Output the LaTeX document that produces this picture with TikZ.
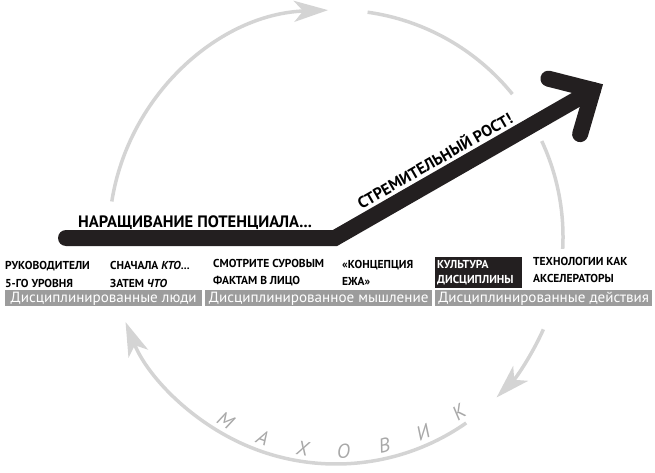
\documentclass[tikz,border=0pt]{standalone}
\usepackage{fontspec}
\setmainfont{PT Sans}
\newfontfamily\barfont[FakeStretch=1.02]{PT Sans}
\usetikzlibrary{arrows.meta,calc}

\definecolor{inkblack}{HTML}{231F20}
\definecolor{bargrey}{HTML}{9C9C9C}
\definecolor{ringgrey}{HTML}{D4D4D4}
\definecolor{lettergrey}{HTML}{A8A8A8}

\tikzset{
  ring/.style={ringgrey, line width=3.5pt},
  ringtip/.style={ring, -{Stealth[length=34pt,width=21pt,inset=9pt]}},
  shaft/.style={inkblack, line width=16pt, line cap=round, line join=miter},
  stage/.style={anchor=north west, align=left, inner sep=0pt,
    font=\fontsize{11.5}{17.5}\selectfont\bfseries},
  bar/.style={fill=bargrey, text=white, anchor=west,
    inner xsep=0pt, inner ysep=0pt, text height=12pt, text depth=4pt,
    font=\barfont\fontsize{14.8}{15}\selectfont},
  flyletter/.style={lettergrey, inner sep=0pt, font=\fontsize{20}{20}\selectfont\itshape},
}

\begin{document}
\begin{tikzpicture}[x=1pt,y=1pt]
\useasboundingbox (0,0) rectangle (655,-473);

% the flywheel ring
\coordinate (hub) at (336,-237);
\draw[ringtip] ($(hub)+(171:227)$) arc[start angle=171, end angle=92, radius=227];
\draw[ring] ($(hub)+(82:227)$) arc[start angle=82, end angle=39, radius=227];
\draw[ring] ($(hub)+(25:227)$) arc[start angle=25, end angle=-3, radius=227];
\draw[ringtip] ($(hub)+(-24:227)$) arc[start angle=-24, end angle=-45, radius=227];
\draw[ringtip] ($(hub)+(-55:227)$) arc[start angle=-55, end angle=-158, radius=227];

\foreach \letter [count=\i, evaluate=\i as \ang using -132+11*\i] in {М,А,Х,О,В,И,К}
{
    \node[flyletter, rotate=\ang+90] (fly\i) at ($(hub)+(\ang:214)$) {\letter};
}

% build-up and breakthrough
\coordinate (start) at (66,-238);
\coordinate (kink) at (335,-238);
\coordinate (tip) at (593,-90);
\draw[shaft] (start) -- (kink) -- (tip);
\draw[shaft] ($(tip)+(165.75:46)$) -- (tip) -- ($(tip)+(253.75:46)$);

\node[anchor=base west, inner sep=0pt, font=\fontsize{16.5}{16.5}\selectfont\bfseries]
    (buildup) at (78,-227) {НАРАЩИВАНИЕ ПОТЕНЦИАЛА...};
\path (kink) -- (tip) node[pos=0.42, sloped, above=11pt, inner sep=0pt,
    font=\fontsize{16}{16}\selectfont\bfseries] (breakthrough) {СТРЕМИТЕЛЬНЫЙ РОСТ!};

% stages
\node[stage] (leaders) at (5,-261.5) {РУКОВОДИТЕЛИ\\5-ГО УРОВНЯ};
\node[stage] (who) at (110,-261.5) {СНАЧАЛА \textit{КТО}...\\ЗАТЕМ \textit{ЧТО}};
\node[stage] (facts) at (213,-259) {СМОТРИТЕ СУРОВЫМ\\ФАКТАМ В ЛИЦО};
\node[stage] (hedgehog) at (342,-260) {«КОНЦЕПЦИЯ\\ЕЖА»};
\node[stage, fill=inkblack, text=white, inner xsep=2pt, inner ysep=3pt,
    text width=83pt, font=\fontsize{11.5}{15}\selectfont\bfseries]
    (culture) at (435,-257) {КУЛЬТУРА\\ДИСЦИПЛИНЫ};
\node[stage] (tech) at (533,-257) {ТЕХНОЛОГИИ КАК\\АКСЕЛЕРАТОРЫ};

% grey bars
\node[bar, minimum width=197pt] (people) at (5,-298) {Дисциплинированные люди};
\node[bar, minimum width=227pt] (thought) at (205,-298) {Дисциплинированное мышление};
\node[bar, minimum width=217pt] (action) at (435,-298) {Дисциплинированные действия};

\end{tikzpicture}
\end{document}
